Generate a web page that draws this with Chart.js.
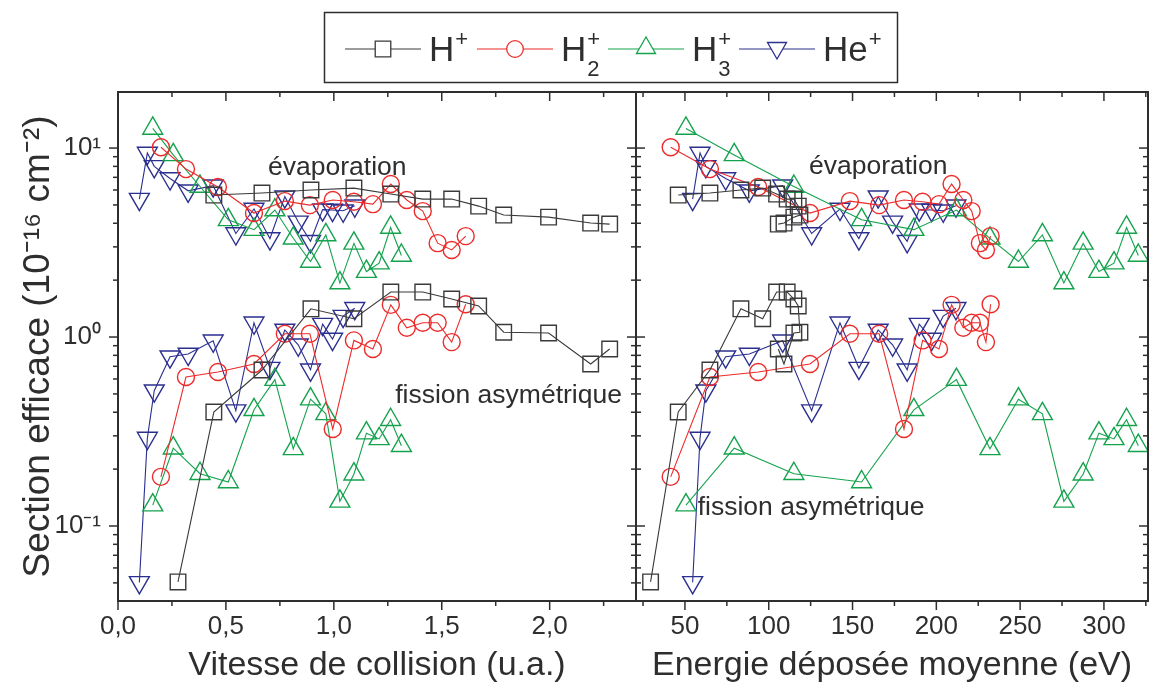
<!DOCTYPE html>
<html>
<head>
<meta charset="utf-8">
<title>Section efficace</title>
<script src="https://cdn.jsdelivr.net/npm/chart.js@4.4.1/dist/chart.umd.min.js"></script>
<style>
  html, body { margin: 0; padding: 0; background: #fff; }
  canvas { display: block; }
</style>
</head>
<body>
<canvas id="chart" width="1152" height="686"></canvas>
<script>
// values: collision velocity (u.a.), mean deposited energy (eV),
// cross sections (1e-16 cm2) for the evaporation branch and the asymmetric fission branch

// H+
const vH    = [0.278, 0.444, 0.667, 0.894, 1.093, 1.264, 1.412, 1.546, 1.671, 1.787, 1.995, 2.19, 2.278];
const eH    = [29.5, 46.0, 64.9, 83.4, 96.4, 104.7, 111.0, 115.0, 117.6, 118.6, 115.0, 109.1, 105.7];
const evapH = [null, 5.64, 5.78, 6.0, 6.14, 5.71, 5.37, 5.37, 4.93, 4.42, 4.31, 4.01, 3.96];
const fisH  = [0.0506, 0.401, 0.669, 1.41, 1.25, 1.73, 1.73, 1.59, 1.46, 1.06, 1.05, 0.72, 0.864];

// H2+
const vH2    = [0.199, 0.315, 0.463, 0.630, 0.773, 0.889, 0.995, 1.093, 1.181, 1.264, 1.338, 1.412, 1.481, 1.546, 1.611];
const eH2    = [41.5, 64.9, 93.7, 124.6, 148.4, 165.9, 180.7, 191.8, 201.6, 209.1, 216.1, 221.1, 226.0, 229.6, 232.4];
const evapH2 = [10.1, 7.74, 6.22, 4.53, 5.24, 4.99, 5.31, 5.2, 5.05, 6.45, 5.31, 4.64, 3.14, 2.89, 3.42];
const fisH2  = [0.182, 0.614, 0.653, 0.72, 1.04, 1.04, 0.326, 0.96, 0.864, 1.48, 1.12, 1.19, 1.19, 0.94, 1.49];

// H3+
const vH3    = [0.161, 0.256, 0.380, 0.511, 0.630, 0.727, 0.812, 0.892, 0.963, 1.028, 1.093, 1.151, 1.210, 1.263, 1.313];
const eH3    = [50.6, 79.4, 115.0, 155.4, 186.6, 212.0, 232.0, 249.0, 263.3, 276.1, 287.6, 297.0, 306.0, 313.5, 320.5];
const evapH3 = [12.7, 9.2, 6.26, 4.17, 3.7, 4.7, 3.33, 2.51, 3.47, 1.93, 3.13, 2.22, 2.46, 3.8, 2.7];
const fisH3  = [0.129, 0.258, 0.189, 0.171, 0.412, 0.595, 0.256, 0.469, 0.392, 0.135, 0.188, 0.31, 0.289, 0.365, 0.266];

// He+
const vHe    = [0.099, 0.136, 0.168, 0.241, 0.325, 0.441, 0.546, 0.630, 0.704, 0.773, 0.835, 0.892, 0.948, 0.994, 1.043, 1.097];
const eHe    = [54.6, 59.0, 62.5, 74.3, 88.4, 108.3, 125.6, 142.5, 153.8, 165.3, 173.9, 182.6, 189.8, 197.2, 204.1, 211.7];
const evapHe = [5.37, 9.41, 8.0, 6.9, 5.94, 6.32, 3.53, 4.76, 3.32, 5.53, 4.07, 3.21, 4.72, 4.7, 4.66, 4.95];
const fisHe  = [0.0503, 0.292, 0.52, 0.787, 0.813, 0.956, 0.408, 1.19, 0.685, 1.09, 0.91, 0.671, 1.17, 0.976, 1.29, 1.42];

// ion names: [base, subscript, superscript]
const ionNames = [['H', '', '+'], ['H', '2', '+'], ['H', '3', '+'], ['He', '', '+']];

// axis ticks
const vTicks = [0, 0.5, 1, 1.5, 2];
const vTickLabels = ['0,0', '0,5', '1,0', '1,5', '2,0'];
const vMinor = [0.25, 0.75, 1.25, 1.75, 2.25];
const eTicks = [50, 100, 150, 200, 250, 300];
const eMinor = [25, 75, 125, 175, 225, 275, 325];
const yTicks = [0.1, 1, 10];
const yTickLabels = ['10⁻¹', '10⁰', '10¹'];
const yMinor = [0.05, 0.06, 0.07, 0.08, 0.09, 0.2, 0.3, 0.4, 0.5, 0.6, 0.7, 0.8, 0.9, 2, 3, 4, 5, 6, 7, 8, 9];

const textColor = '#2e2e2e';
const fontFamily = "'Liberation Sans', Arial, Helvetica, sans-serif";
Chart.defaults.font.family = fontFamily;
Chart.defaults.color = textColor;

const series = [
  { name: ionNames[0], color: '#3a3a3a', style: 'rect',     radius: 11,  rot: 0,   v: vH,  e: eH,  evap: evapH,  fis: fisH },
  { name: ionNames[1], color: '#ee2b2b', style: 'circle',   radius: 8.5, rot: 0,   v: vH2, e: eH2, evap: evapH2, fis: fisH2 },
  { name: ionNames[2], color: '#14a24c', style: 'triangle', radius: 11.5, rot: 0,  v: vH3, e: eH3, evap: evapH3, fis: fisH3 },
  { name: ionNames[3], color: '#2b2f8e', style: 'triangle', radius: 11.5, rot: 180, v: vHe, e: eHe, evap: evapHe, fis: fisHe }
];

const datasets = [];
series.forEach(s => {
  [['xl', s.v], ['xr', s.e]].forEach(([axis, xs]) => {
    [s.evap, s.fis].forEach(ys => {
      datasets.push({
        label: s.name.join(''),
        xAxisID: axis,
        yAxisID: 'y',
        data: xs.map((x, i) => ({ x: x, y: ys[i] })),
        showLine: true,
        borderColor: s.color,
        borderWidth: 1.1,
        backgroundColor: 'rgba(255,255,255,0)',
        pointStyle: s.style,
        pointRotation: s.rot,
        pointRadius: s.radius,
        pointBorderWidth: 1.4,
        pointBorderColor: s.color,
        pointBackgroundColor: 'rgba(255,255,255,0)'
      });
    });
  });
});

// text notes placed in data units of each panel
const notes = [
  { text: 'évaporation', axis: 'xl', x: 0.695, y: 7.2 },
  { text: 'évaporation', axis: 'xr', x: 124.0, y: 7.28 },
  { text: 'fission asymétrique', axis: 'xl', x: 1.284, y: 0.448 },
  { text: 'fission asymétrique', axis: 'xr', x: 57.6, y: 0.114 }
];

// panel widths in px: left panel, right panel
const panelWidths = [518, 512];

function drawMarker(ctx, style, x, y, r, rot) {
  ctx.beginPath();
  if (style === 'rect') {
    const h = r * Math.SQRT1_2;
    ctx.rect(x - h, y - h, 2 * h, 2 * h);
  } else if (style === 'circle') {
    ctx.arc(x, y, r, 0, 2 * Math.PI);
  } else {
    const a0 = rot * Math.PI / 180;
    for (let k = 0; k < 3; k++) {
      const a = a0 + k * 2 * Math.PI / 3;
      const px = x + Math.sin(a) * r, py = y - Math.cos(a) * r;
      if (k === 0) ctx.moveTo(px, py); else ctx.lineTo(px, py);
    }
    ctx.closePath();
  }
  ctx.fillStyle = '#fff';
  ctx.fill();
  ctx.stroke();
}

// put the two x scales side by side with fixed widths
const panelsPlugin = {
  id: 'panels',
  afterLayout(chart) {
    const { xl, xr } = chart.scales;
    const left = xl.left;
    xl.right = left + panelWidths[0];
    xl.width = panelWidths[0];
    xr.left = xl.right;
    xr.right = xr.left + panelWidths[1];
    xr.width = panelWidths[1];
    xl.configure();
    xr.configure();
  }
};

// frame around both panels, inner and outer tick marks
const framePlugin = {
  id: 'frame',
  afterDraw(chart) {
    const { ctx } = chart;
    const { xl, xr, y } = chart.scales;
    ctx.save();
    ctx.strokeStyle = textColor;
    ctx.lineWidth = 2;
    [xl, xr].forEach(s => ctx.strokeRect(s.left, y.top, s.right - s.left, y.bottom - y.top));

    ctx.lineWidth = 1.5;
    const seg = (x0, y0, x1, y1) => { ctx.beginPath(); ctx.moveTo(x0, y0); ctx.lineTo(x1, y1); ctx.stroke(); };
    const xTick = (s, vals, len) => vals.forEach(v => {
      if (v < s.min || v > s.max) return;
      const px = s.getPixelForValue(v);
      seg(px, y.bottom, px, y.bottom + len);
      seg(px, y.top, px, y.top + len);
    });
    xTick(xl, vTicks, 9); xTick(xl, vMinor, 5);
    xTick(xr, eTicks, 9); xTick(xr, eMinor, 5);

    const yTick = (vals, len) => vals.forEach(v => {
      const py = y.getPixelForValue(v);
      seg(xl.left - len, py, xl.left, py);
      seg(xl.right - len, py, xl.right, py);
      seg(xr.left, py, xr.left + len, py);
      seg(xr.right - len, py, xr.right, py);
    });
    yTick(yTicks, 9); yTick(yMinor, 5);
    ctx.restore();
  }
};

const notesPlugin = {
  id: 'notes',
  afterDraw(chart) {
    const { ctx } = chart;
    ctx.save();
    ctx.fillStyle = textColor;
    ctx.font = '26.5px ' + fontFamily;
    ctx.textAlign = 'left';
    ctx.textBaseline = 'alphabetic';
    notes.forEach(n => {
      const xs = chart.scales[n.axis];
      ctx.fillText(n.text, xs.getPixelForValue(n.x), chart.scales.y.getPixelForValue(n.y));
    });
    ctx.restore();
  }
};

// boxed legend: line - marker - line, then the ion name with sub/superscripts
const legendPlugin = {
  id: 'boxLegend',
  afterDraw(chart) {
    const { ctx } = chart;
    ctx.save();
    ctx.strokeStyle = textColor;
    ctx.lineWidth = 1.5;
    ctx.strokeRect(324.5, 12.5, 573, 70);
    const startX = [345, 477, 608, 739];
    const lineY = 49;
    series.forEach((s, i) => {
      const x0 = startX[i];
      ctx.strokeStyle = s.color;
      ctx.lineWidth = 1.2;
      ctx.beginPath(); ctx.moveTo(x0, lineY); ctx.lineTo(x0 + 76, lineY); ctx.stroke();
      ctx.lineWidth = 1.3;
      const r = s.style === 'circle' ? 8.3 : 11;
      drawMarker(ctx, s.style, x0 + 38, s.style === 'triangle' ? lineY - 1 : lineY, r, s.rot);

      const [base, sub, sup] = s.name;
      const tx = x0 + 84;
      ctx.fillStyle = textColor;
      ctx.textBaseline = 'alphabetic';
      ctx.font = '35px ' + fontFamily;
      ctx.fillText(base, tx, 61);
      const w = ctx.measureText(base).width;
      ctx.font = '22px ' + fontFamily;
      if (sub) ctx.fillText(sub, tx + w + 1, 76);
      ctx.fillText(sup, tx + w + 1, 46);
    });
    ctx.restore();
  }
};

const xCommon = {
  type: 'linear',
  position: 'bottom',
  stack: 'panels',
  grid: { display: false, drawTicks: false },
  border: { display: false },
  ticks: { font: { size: 26 }, color: textColor, padding: 10, maxRotation: 0 },
  afterFit(s) { s.height = 85; s.paddingLeft = 0; s.paddingRight = 0; }
};

new Chart(document.getElementById('chart'), {
  type: 'scatter',
  data: { datasets: datasets },
  options: {
    responsive: false,
    animation: false,
    events: [],
    layout: { padding: { top: 92, right: 4, left: 0, bottom: 0 } },
    plugins: { legend: { display: false }, tooltip: { enabled: false } },
    scales: {
      xl: Object.assign({}, xCommon, {
        stackWeight: panelWidths[0],
        min: 0, max: 2.4,
        afterBuildTicks(s) { s.ticks = vTicks.map(v => ({ value: v })); },
        ticks: Object.assign({}, xCommon.ticks, { callback: (v) => vTickLabels[vTicks.indexOf(v)] }),
        title: { display: true, text: 'Vitesse de collision (u.a.)', font: { size: 34 }, color: textColor, padding: { top: 0, bottom: 0 } }
      }),
      xr: Object.assign({}, xCommon, {
        stackWeight: panelWidths[1],
        min: 20.8, max: 326.3,
        afterBuildTicks(s) { s.ticks = eTicks.map(v => ({ value: v })); },
        ticks: Object.assign({}, xCommon.ticks, { callback: (v) => String(v) }),
        title: { display: true, text: 'Energie déposée moyenne (eV)', font: { size: 34 }, color: textColor, padding: { top: 0, bottom: 0 } }
      }),
      y: {
        type: 'logarithmic',
        position: 'left',
        min: 0.0401, max: 19.8,
        grid: { display: false, drawTicks: false },
        border: { display: false },
        afterBuildTicks(s) { s.ticks = yTicks.map(v => ({ value: v })); },
        afterFit(s) { s.width = 118; s.paddingTop = 0; s.paddingBottom = 0; },
        ticks: {
          font: { size: 26 }, color: textColor, padding: 17,
          callback: (v) => yTickLabels[yTicks.indexOf(v)]
        },
        title: { display: true, text: 'Section efficace (10⁻¹⁶ cm⁻²)', font: { size: 37 }, color: textColor, padding: { top: 17, bottom: 0 } }
      }
    }
  },
  plugins: [panelsPlugin, framePlugin, notesPlugin, legendPlugin]
});
</script>
</body>
</html>
